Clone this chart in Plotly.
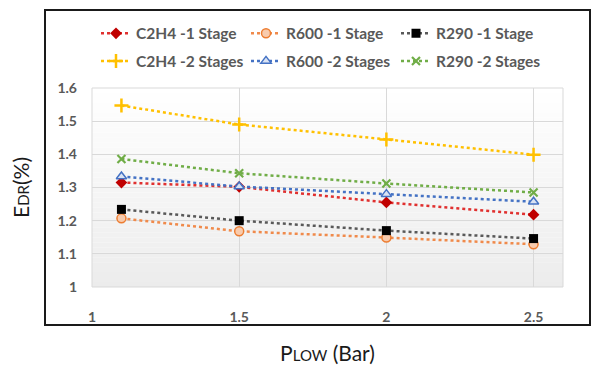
import plotly.graph_objects as go

x_vals = [1.1, 1.5, 2.0, 2.5]
c2h4_1 = [1.315, 1.302, 1.255, 1.218]
r600_1 = [1.207, 1.168, 1.149, 1.129]
r290_1 = [1.234, 1.200, 1.170, 1.146]
c2h4_2 = [1.547, 1.490, 1.445, 1.399]
r600_2 = [1.333, 1.303, 1.280, 1.257]
r290_2 = [1.386, 1.343, 1.312, 1.285]

names = ["C2H4 -1 Stage", "R600 -1 Stage", "R290 -1 Stage",
         "C2H4 -2 Stages", "R600 -2 Stages", "R290 -2 Stages"]

series = [c2h4_1, r600_1, r290_1, c2h4_2, r600_2, r290_2]
line_colors = ["#E0302F", "#F08A4B", "#595959", "#FFC000", "#4472C4", "#70AD47"]
markers = [
    dict(symbol="diamond", size=9, color="#C00000", line=dict(width=0)),
    dict(symbol="circle", size=9, color="#F8CBAD", line=dict(width=1.5, color="#ED7D31")),
    dict(symbol="square", size=9, color="#000000", line=dict(width=0)),
    dict(symbol="cross-thin", size=10, color="#FFC000", line=dict(width=2.5, color="#FFC000")),
    dict(symbol="triangle-up", size=9, color="#DAE3F3", line=dict(width=1.5, color="#4472C4")),
    dict(symbol="x-thin", size=8, color="#70AD47", line=dict(width=2.2, color="#70AD47")),
]

fig = go.Figure()
for i, (nm, ys) in enumerate(zip(names, series)):
    fig.add_trace(go.Scatter(
        x=x_vals, y=ys, name=nm, mode="lines+markers",
        line=dict(color=line_colors[i], width=2.5, dash="dot"),
        marker=markers[i],
        legend="legend" if i < 3 else "legend2",
    ))

# plot area gradient background
shapes = []
n = 40
for k in range(n):
    t0 = k / n
    t1 = (k + 1) / n
    frac = 1 - (t0 + t1) / 2  # 0 at top, 1 at bottom
    g = int(round(255 - 19 * frac))
    shapes.append(dict(type="rect", xref="paper", yref="paper", x0=0, x1=1,
                       y0=t0, y1=t1, fillcolor=f"rgb({g},{g},{g})",
                       line=dict(width=0), layer="below"))
# plot-area border
shapes.append(dict(type="rect", xref="paper", yref="paper", x0=0, x1=1, y0=0, y1=1,
                   line=dict(color="#D9D9D9", width=1), layer="below"))
# chart frame
L, R, T, B = 92, 32, 88, 77
W, H = 595, 374
pw, ph = W - L - R, H - T - B
def px(xp):
    return (xp - L) / pw
def py(yp):
    return (H - B - yp) / ph
shapes.append(dict(type="rect", xref="paper", yref="paper",
                   x0=px(45), x1=px(590), y0=py(337), y1=py(6),
                   line=dict(color="#1A1A1A", width=2), layer="above"))

legend_font = dict(family="Lato", size=15.5, color="#595959", weight="bold")
fig.update_layout(
    width=W, height=H,
    margin=dict(l=L, r=R, t=T, b=B),
    paper_bgcolor="white",
    plot_bgcolor="rgba(0,0,0,0)",
    shapes=shapes,
    showlegend=True,
    legend=dict(orientation="h", x=px(96), y=py(31), xanchor="left", yanchor="middle",
                font=legend_font, entrywidth=105, bgcolor="rgba(0,0,0,0)",
                itemclick=False),
    legend2=dict(orientation="h", x=px(96), y=py(60), xanchor="left", yanchor="middle",
                 font=legend_font, entrywidth=105, bgcolor="rgba(0,0,0,0)",
                 itemclick=False),
    xaxis=dict(range=[1, 2.6], dtick=0.5, tick0=1, showgrid=True, gridcolor="#D9D9D9",
               gridwidth=1, zeroline=False, showline=False,
               tickfont=dict(family="Lato", size=14, color="#595959", weight="bold"),
               ticklabelstandoff=20,
               title=dict(text="P<span style='font-size:15px'>LOW</span> (Bar)",
                          font=dict(family="Lato", size=21, color="#1A1A1A"), standoff=22)),
    yaxis=dict(range=[1, 1.6], dtick=0.1, showgrid=True, gridcolor="#D9D9D9",
               gridwidth=1, zeroline=False, showline=False,
               tickformat="~g",
               tickfont=dict(family="Lato", size=14, color="#595959", weight="bold"),
               ticklabelstandoff=14,
               title=dict(text="E<span style='font-size:15px'>DR</span>(%)",
                          font=dict(family="Lato", size=21, color="#1A1A1A"), standoff=22)),
)

fig.write_html("out.html")
